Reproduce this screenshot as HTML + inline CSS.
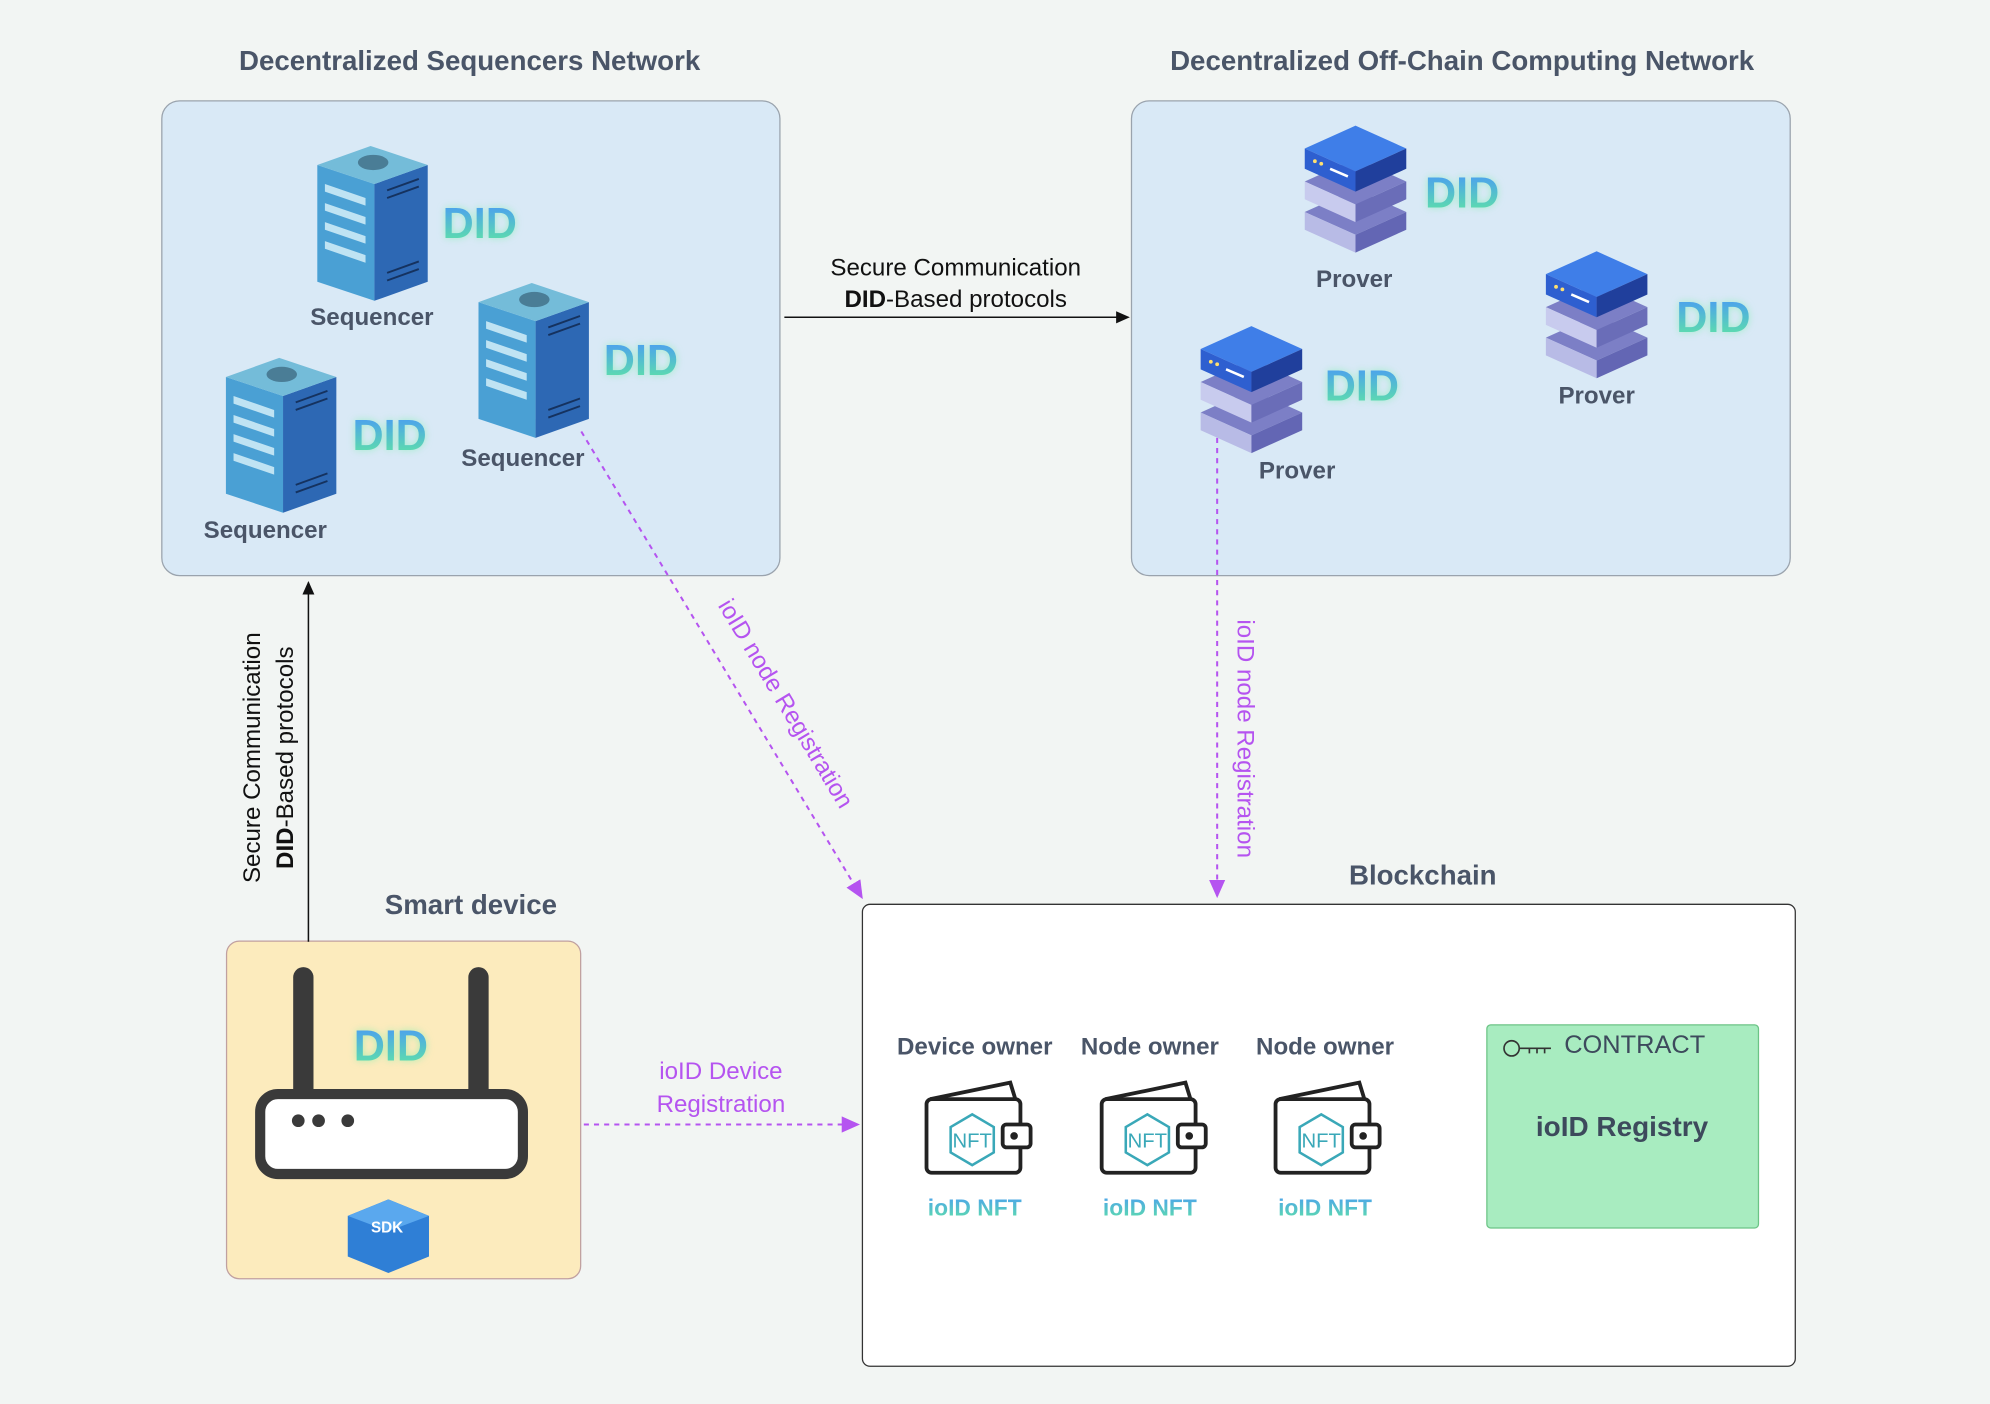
<!DOCTYPE html>
<html><head><meta charset="utf-8">
<style>
html,body{margin:0;padding:0;background:#f2f5f3;}
body{width:1990px;height:1404px;overflow:hidden;font-family:"Liberation Sans",sans-serif;}
#w{position:absolute;left:0;top:0;width:1568px;height:1106px;transform:scale(1.2692);transform-origin:0 0;}
.a{position:absolute;}
.t{position:absolute;transform:translate(-50%,-50%);white-space:nowrap;}
.title{font-weight:bold;font-size:21.8px;color:#4a5568;}
.lbl{font-weight:bold;font-size:19px;color:#4a5568;}
.did{font-weight:bold;font-size:34px;background:linear-gradient(180deg,#4b9ff0 10%,#5fe3a6 90%);-webkit-background-clip:text;background-clip:text;color:transparent;filter:drop-shadow(0 0 3px rgba(120,240,170,0.6));}
.nft{font-weight:bold;font-size:18px;background:linear-gradient(180deg,#4b9ff0,#5fe3a6);-webkit-background-clip:text;background-clip:text;color:transparent;}
.pur{color:#b554f0;font-size:19px;}
.blk{color:#111;font-size:19px;}
</style></head><body><div id="w">
<svg class="a" style="left:0;top:0" width="1568" height="1106">
<defs>
<marker id="ab" markerWidth="10" markerHeight="10" refX="8" refY="5" orient="auto"><path d="M0,1 L9,5 L0,9 z" fill="#111"/></marker>
<marker id="ap" markerWidth="10" markerHeight="10" refX="8" refY="5" orient="auto"><path d="M0,1 L9,5 L0,9 z" fill="#b554f0"/></marker>
</defs>
<rect x="127.5" y="79.5" width="487" height="374" rx="14" fill="#d9e9f6" stroke="#9aa3ad"/>
<rect x="891.5" y="79.5" width="519" height="374" rx="14" fill="#d9e9f6" stroke="#9aa3ad"/>
<rect x="679.5" y="712.5" width="735" height="364" rx="6" fill="#fff" stroke="#333"/>
<rect x="178.5" y="741.5" width="279" height="266" rx="10" fill="#fcebbd" stroke="#c0a0a0"/>
<rect x="1171.5" y="807.5" width="214" height="160" rx="3" fill="#a8ecc0" stroke="#6cc486"/>
<line x1="618" y1="250" x2="889" y2="250" stroke="#111" stroke-width="1.2" marker-end="url(#ab)"/>
<line x1="243" y1="742" x2="243" y2="459" stroke="#111" stroke-width="1.2" marker-end="url(#ab)"/>
<line x1="458" y1="340" x2="679" y2="707" stroke="#b554f0" stroke-width="1.6" stroke-dasharray="4,4" marker-end="url(#ap)"/>
<line x1="959" y1="345" x2="959" y2="706" stroke="#b554f0" stroke-width="1.6" stroke-dasharray="4,4" marker-end="url(#ap)"/>
<line x1="460" y1="886" x2="676" y2="886" stroke="#b554f0" stroke-width="1.6" stroke-dasharray="4,4" marker-end="url(#ap)"/>
<defs>
<g id="srv">
<polygon points="0,20 45,35 45,127 0,112" fill="#4aa0d4"/>
<polygon points="45,35 87,20 87,112 45,127" fill="#2d68b4"/>
<polygon points="0,20 42,5 87,20 45,35" fill="#74bcd9"/>
<ellipse cx="44" cy="18" rx="12" ry="6" fill="#4a7d96"/>
<g fill="#bfe3f3"><polygon points="6,35 38,46 38,52 6,41"/><polygon points="6,50 38,61 38,67 6,56"/><polygon points="6,65 38,76 38,82 6,71"/><polygon points="6,80 38,91 38,97 6,86"/></g>
<g stroke="#15325f" stroke-width="1.5"><line x1="55" y1="40" x2="80" y2="31"/><line x1="55" y1="46" x2="80" y2="37"/><line x1="55" y1="105" x2="80" y2="96"/><line x1="55" y1="111" x2="80" y2="102"/></g>
</g>
<g id="prv">
<g transform="translate(0,50)"><polygon points="0,20 40,38 80,20 40,2" fill="#7c7fc6"/><polygon points="0,20 40,38 40,52 0,34" fill="#b8bbe6"/><polygon points="40,38 80,20 80,34 40,52" fill="#6366b4"/></g>
<g transform="translate(0,26)"><polygon points="0,20 40,38 80,20 40,2" fill="#7c7fc6"/><polygon points="0,20 40,38 40,52 0,34" fill="#c8cbee"/><polygon points="40,38 80,20 80,34 40,52" fill="#6a6db8"/></g>
<polygon points="0,20 40,38 80,20 40,2" fill="#3f7ee8"/><polygon points="0,20 40,38 40,54 0,36" fill="#2e5fd0"/><polygon points="40,38 80,20 80,36 40,54" fill="#203f9c"/>
<circle cx="8" cy="30" r="1.5" fill="#ffe070"/><circle cx="13" cy="32" r="1.5" fill="#ffe070"/><line x1="20" y1="36" x2="34" y2="42" stroke="#fff" stroke-width="2"/>
</g>
<g id="wal">
<path d="M5,18 L68,5 L72,18" fill="none" stroke="#222" stroke-width="3"/>
<rect x="2" y="18" width="74" height="58" rx="4" fill="#fff" stroke="#222" stroke-width="3"/>
<rect x="62" y="38" width="22" height="18" rx="3" fill="#fff" stroke="#222" stroke-width="3"/>
<circle cx="71" cy="47" r="3" fill="#222"/>
<polygon points="38,30 55,40 55,60 38,70 21,60 21,40" fill="none" stroke="#3aa8b8" stroke-width="2"/>
<text x="38" y="56" font-size="16" text-anchor="middle" fill="#3aa8b8" font-family="Liberation Sans">NFT</text>
</g>
</defs>
<use href="#srv" x="250" y="110"/>
<use href="#srv" x="377" y="218"/>
<use href="#srv" x="178" y="277"/>
<use href="#prv" x="1028" y="97"/>
<use href="#prv" x="1218" y="196"/>
<use href="#prv" x="946" y="255"/>
<use href="#wal" x="728" y="848"/>
<use href="#wal" x="866" y="848"/>
<use href="#wal" x="1003" y="848"/>
<rect x="231" y="762" width="16" height="105" rx="8" fill="#3a3a3a"/>
<rect x="369" y="762" width="16" height="105" rx="8" fill="#3a3a3a"/>
<rect x="205" y="862" width="207" height="63" rx="14" fill="#fff" stroke="#3a3a3a" stroke-width="8"/>
<circle cx="235" cy="883" r="5" fill="#3a3a3a"/><circle cx="251" cy="883" r="5" fill="#3a3a3a"/><circle cx="274" cy="883" r="5" fill="#3a3a3a"/>
<polygon points="306,945 338,958 338,990 306,1003 274,990 274,958" fill="#2f7fd6"/>
<polygon points="274,958 306,970 338,958 306,945" fill="#5aa8ee"/>
<text x="305" y="971" font-size="12" font-weight="bold" text-anchor="middle" fill="#fff" font-family="Liberation Sans">SDK</text>
<circle cx="1191" cy="826" r="6" fill="none" stroke="#333" stroke-width="1.3"/>
<path d="M1197,826 L1222,826 M1205,826 l0,4 M1211,826 l0,4 M1217,826 l0,4" stroke="#333" stroke-width="1.3" fill="none"/>
</svg>

<div class="t title" style="left:370px;top:48px">Decentralized Sequencers Network</div>
<div class="t title" style="left:1152px;top:48px">Decentralized Off-Chain Computing Network</div>
<div class="t title" style="left:1121px;top:690px">Blockchain</div>
<div class="t title" style="left:371px;top:713px">Smart device</div>

<div class="t did" style="left:378px;top:177px">DID</div>
<div class="t did" style="left:505px;top:285px">DID</div>
<div class="t did" style="left:307px;top:344px">DID</div>
<div class="t did" style="left:1152px;top:153px">DID</div>
<div class="t did" style="left:1350px;top:251px">DID</div>
<div class="t did" style="left:1073px;top:305px">DID</div>
<div class="t did" style="left:308px;top:825px">DID</div>

<div class="t lbl" style="left:293px;top:251px">Sequencer</div>
<div class="t lbl" style="left:412px;top:362px">Sequencer</div>
<div class="t lbl" style="left:209px;top:419px">Sequencer</div>
<div class="t lbl" style="left:1067px;top:221px">Prover</div>
<div class="t lbl" style="left:1258px;top:313px">Prover</div>
<div class="t lbl" style="left:1022px;top:372px">Prover</div>

<div class="t blk" style="left:753px;top:212px">Secure Communication</div>
<div class="t blk" style="left:753px;top:237px"><b>DID</b>-Based protocols</div>
<div class="t blk" style="left:213px;top:597px;transform:translate(-50%,-50%) rotate(-90deg);text-align:center;line-height:26px">Secure Communication<br><b>DID</b>-Based protocols</div>

<div class="t pur" style="left:618px;top:555px;transform:translate(-50%,-50%) rotate(59deg)">ioID node Registration</div>
<div class="t pur" style="left:980px;top:582px;transform:translate(-50%,-50%) rotate(90deg)">ioID node Registration</div>
<div class="t pur" style="left:568px;top:845px">ioID Device</div>
<div class="t pur" style="left:568px;top:871px">Registration</div>

<div class="t lbl" style="left:768px;top:826px">Device owner</div>
<div class="t lbl" style="left:906px;top:826px">Node owner</div>
<div class="t lbl" style="left:1044px;top:826px">Node owner</div>
<div class="t nft" style="left:768px;top:952px">ioID NFT</div>
<div class="t nft" style="left:906px;top:952px">ioID NFT</div>
<div class="t nft" style="left:1044px;top:952px">ioID NFT</div>

<div class="t" style="left:1288px;top:824px;font-size:20px;color:#3d4a5c">CONTRACT</div>
<div class="t" style="left:1278px;top:888px;font-size:22px;font-weight:bold;color:#3d4a5c">ioID Registry</div>
</div></body></html>
